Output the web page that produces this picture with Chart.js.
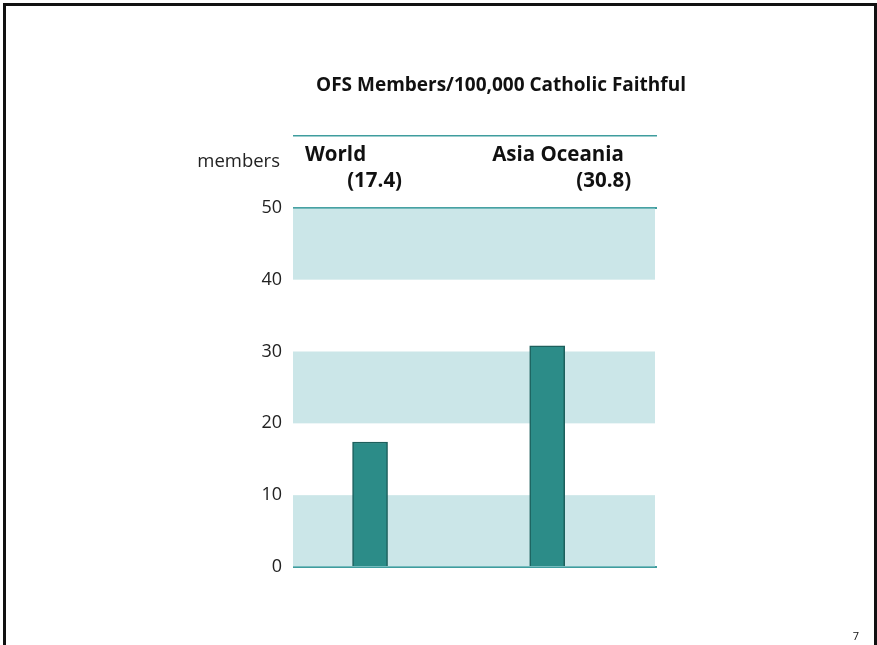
<!DOCTYPE html>
<html>
<head>
<meta charset="utf-8">
<script src="https://cdn.jsdelivr.net/npm/chart.js@4"></script>
<style>
  html, body { margin: 0; padding: 0; background: #fff; }
  #wrap { position: relative; width: 877px; height: 645px; }
  #frame { position: absolute; left: 3px; top: 3px; width: 868px; height: 650px;
           border: 3px solid #111; border-bottom: none; pointer-events: none; }
  canvas { position: absolute; left: 0; top: 0; }
</style>
</head>
<body>
<div id="wrap">
  <canvas id="chart" width="877" height="645"></canvas>
  <div id="frame"></div>
</div>
<script>
const chartTitle = 'OFS Members/100,000 Catholic Faithful';
const categories = ['World', 'Asia Oceania'];
const values = [17.4, 30.8];
const valueLabels = ['(17.4)', '(30.8)'];
const yTicks = [0, 10, 20, 30, 40, 50];
const bands = [[0, 10], [20, 30], [40, 50]];
const yUnit = 'members';
const pageNumber = '7';

const teal = '#3f9d9e';
const font = '"Open Sans", "Noto Sans", sans-serif';

// shaded bands + title + labels drawn on top of the library scales
const decorPlugin = {
  id: 'decor',
  beforeDatasetsDraw(chart) {
    const { ctx, chartArea, scales } = chart;
    ctx.save();
    ctx.fillStyle = 'rgba(160, 210, 214, 0.55)';
    bands.forEach(([lo, hi]) => {
      const y1 = scales.y.getPixelForValue(hi);
      const y2 = scales.y.getPixelForValue(lo);
      ctx.fillRect(chartArea.left, y1, chartArea.right - chartArea.left - 2, y2 - y1);
    });
    ctx.restore();
  },
  afterDraw(chart) {
    const { ctx, chartArea, scales } = chart;
    ctx.save();
    ctx.fillStyle = '#111';
    ctx.textBaseline = 'alphabetic';

    ctx.font = 'bold 19px ' + font;
    ctx.textAlign = 'center';
    ctx.fillText(chartTitle, 501, 91);

    ctx.font = '18.5px ' + font;
    ctx.fillStyle = '#222';
    ctx.textAlign = 'right';
    ctx.fillText(yUnit, chartArea.left - 13, 167);

    ctx.fillStyle = '#111';
    ctx.font = 'bold 20.5px ' + font;
    const offs = [[-65, 32], [-55, 84]];
    categories.forEach((c, i) => {
      const x = scales.x.getPixelForValue(i);
      ctx.textAlign = 'left';
      ctx.fillText(c, x + offs[i][0], 161);
      ctx.textAlign = 'right';
      ctx.fillText(valueLabels[i], x + offs[i][1], 187);
    });

    ctx.font = '11px ' + font;
    ctx.textAlign = 'center';
    ctx.fillText(pageNumber, 856, 640);
    ctx.restore();
  }
};

new Chart(document.getElementById('chart'), {
  type: 'bar',
  data: {
    datasets: [{
      data: values.map((v, i) => ({ x: i, y: v })),
      backgroundColor: '#2c8c88',
      borderColor: '#1d5f5c',
      borderWidth: 1.5,
      barThickness: 35
    }]
  },
  options: {
    responsive: false,
    animation: false,
    layout: { padding: { top: 136, right: 220, bottom: 78, left: 0 } },
    plugins: { legend: { display: false }, tooltip: { enabled: false } },
    scales: {
      x: {
        type: 'linear',
        offset: false,
        min: -0.435,
        max: 1.62,
        display: false
      },
      y: {
        min: 0,
        max: 60,
        afterFit(scale) { scale.width = 293; },
        afterBuildTicks(scale) {
          scale.ticks = yTicks.concat([60]).map(v => ({ value: v }));
        },
        border: { display: false },
        grid: {
          drawTicks: false,
          color: c => (c.tick && [0, 50, 60].includes(c.tick.value)) ? teal : 'rgba(0,0,0,0)',
          lineWidth: c => (c.tick && c.tick.value === 60) ? 1.5 : 2
        },
        ticks: {
          padding: 11,
          color: '#222',
          font: { family: font, size: 18 },
          callback: v => yTicks.includes(v) ? String(v) : ''
        }
      }
    }
  },
  plugins: [decorPlugin]
});
</script>
</body>
</html>
